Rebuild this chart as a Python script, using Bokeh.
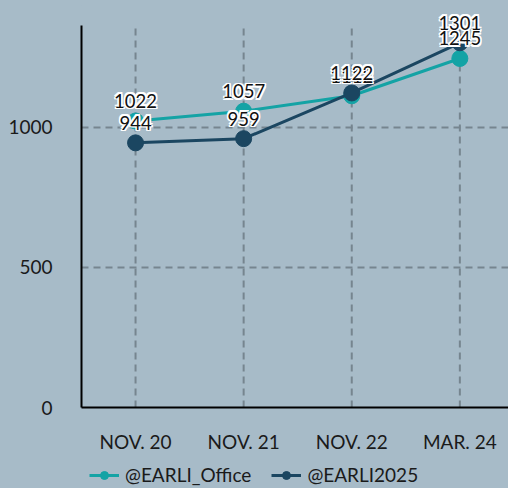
from bokeh.plotting import figure
from bokeh.layouts import column
from bokeh.models import ColumnDataSource, Range1d, FixedTicker, Legend, LegendItem
from bokeh.core.properties import value
from bokeh.embed import file_html
from bokeh.resources import INLINE

categories = ["NOV. 20", "NOV. 21", "NOV. 22", "MAR. 24"]
office = [1022, 1057, 1112, 1245]
earli2025 = [944, 959, 1122, 1301]
series_names = ["@EARLI_Office", "@EARLI2025"]
y_ticks = [0, 500, 1000]
y_axis_top = 1363

BG = "#a7bbc8"
TEAL = "#14a3a5"
NAVY = "#1b4661"
GRID = "#76858f"
FONT = "Lato"
FS = "19px"
FS_LABEL = "18.5px"

xs = list(range(len(categories)))

p = figure(width=508, height=455, output_backend="svg", toolbar_location=None,
           x_range=Range1d(-0.5, 3.45), y_range=Range1d(0, 1434),
           min_border_left=81, min_border_top=5, min_border_right=0, min_border_bottom=45)
p.background_fill_color = BG
p.border_fill_color = BG
p.outline_line_color = None
p.styles = {"background-color": BG}

s1 = ColumnDataSource(dict(x=xs, y=office, t=[str(v) for v in office]))
s2 = ColumnDataSource(dict(x=xs, y=earli2025, t=[str(v) for v in earli2025]))

# vertical dashed grid lines, limited to the axis height
gsrc = ColumnDataSource(dict(x=xs, y0=[0] * len(xs), y1=[y_axis_top] * len(xs)))
p.segment(x0="x", y0="y0", x1="x", y1="y1", source=gsrc, line_color=GRID,
          line_width=2, line_dash="7 5", level="underlay")

p.line("x", "y", source=s1, line_color=TEAL, line_width=3)
p.scatter("x", "y", source=s1, size=16, fill_color=TEAL, line_color=TEAL)
p.line("x", "y", source=s2, line_color=NAVY, line_width=3)
p.scatter("x", "y", source=s2, size=16, fill_color=NAVY, line_color=NAVY)

halo = [(dx, dy) for dx in (-1.5, 0, 1.5) for dy in (-1.5, 0, 1.5) if (dx, dy) != (0, 0)]
for src in (s1, s2):
    for dx, dy in halo:
        p.text("x", "y", text="t", source=src, text_align="center", text_baseline="middle",
               x_offset=dx, y_offset=-20 + dy, text_font=value(FONT), text_font_size=FS_LABEL,
               text_color="white")
    p.text("x", "y", text="t", source=src, text_align="center", text_baseline="middle",
           y_offset=-20, text_font=value(FONT), text_font_size=FS_LABEL, text_color="#111111")

p.xaxis.ticker = FixedTicker(ticks=xs)
p.xaxis.major_label_overrides = {i: c for i, c in enumerate(categories)}
p.yaxis.ticker = FixedTicker(ticks=y_ticks)
p.yaxis.bounds = (0, y_axis_top)

for ax in (p.xaxis[0], p.yaxis[0]):
    ax.axis_line_color = "black"
    ax.axis_line_width = 2
    ax.major_tick_line_color = None
    ax.minor_tick_line_color = None
    ax.major_label_text_font = FONT
    ax.major_label_text_font_size = FS
    ax.major_label_text_color = "#1a1a1a"
p.xaxis.major_label_standoff = 16
p.yaxis.major_label_standoff = 23

p.xgrid.visible = False
p.ygrid.ticker = FixedTicker(ticks=[500, 1000])
p.ygrid.grid_line_color = GRID
p.ygrid.grid_line_width = 2
p.ygrid.grid_line_dash = "7 5"

# legend strip
lg = figure(width=508, height=33, output_backend="svg", toolbar_location=None,
            x_range=Range1d(0, 1), y_range=Range1d(0, 1),
            min_border_left=0, min_border_right=0, min_border_top=0, min_border_bottom=0)
lg.background_fill_color = BG
lg.border_fill_color = BG
lg.outline_line_color = None
lg.styles = {"background-color": BG}
lg.axis.visible = False
lg.grid.visible = False
items = []
for name, col in zip(series_names, (TEAL, NAVY)):
    r1 = lg.line([5, 6], [5, 6], line_color=col, line_width=3)
    r2 = lg.scatter([5], [5], size=16, fill_color=col, line_color=col)
    items.append(LegendItem(label=name, renderers=[r1, r2]))
legend = Legend(items=items, orientation="horizontal", location=(8, 2),
                background_fill_alpha=0, border_line_color=None,
                label_text_font=FONT, label_text_font_size=FS, label_text_color="#1a1a1a",
                glyph_width=30, glyph_height=20, spacing=20, padding=4, margin=0,
                label_standoff=6)
lg.add_layout(legend)

layout = column(p, lg, spacing=0)
layout.styles = {"background-color": BG}
open("out.html", "w").write(file_html(layout, INLINE))
